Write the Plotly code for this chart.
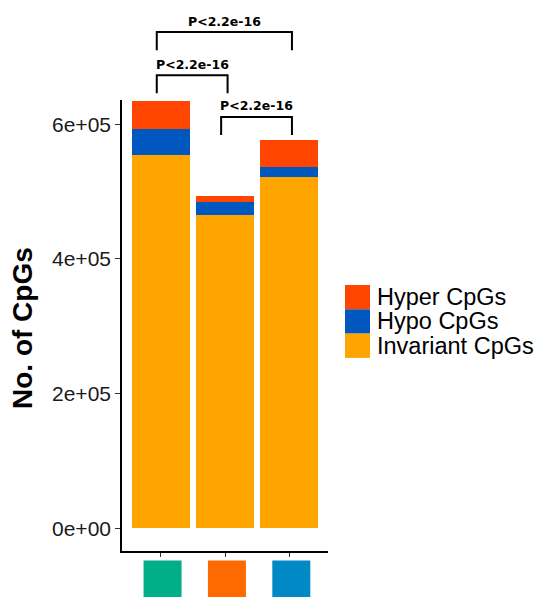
import plotly.graph_objects as go

# ---------------- data ----------------
groups = [0, 1, 2]
invariant = [555000, 465000, 522000]
hypo = [38500, 19000, 14000]
hyper = [40500, 9500, 41000]
series_names = ["Invariant CpGs", "Hypo CpGs", "Hyper CpGs"]
series_colors = ["#FFA500", "#0057BE", "#FF4500"]
group_colors = ["#00AE87", "#FF6A00", "#0089C5"]
ytick_vals = [0, 200000, 400000, 600000]
ytick_text = ["0e+00", "2e+05", "4e+05", "6e+05"]
comparisons = [(0, 2), (0, 1), (1, 2)]
comparison_labels = ["P<2.2e-16", "P<2.2e-16", "P<2.2e-16"]
comparison_y = [737000, 673000, 611000]
legend_order = ["Hyper CpGs", "Hypo CpGs", "Invariant CpGs"]

# ---------------- layout constants ----------------
W, H = 543, 597
ML, MR, MT, MB = 122, 215, 100, 46
XMIN, XMAX = -0.6, 2.6
YMIN, YMAX = -33700, 636100
PW = W - ML - MR
PH = H - MT - MB


def xp(v):
    return (v - XMIN) / (XMAX - XMIN)


def yp(v):
    return (v - YMIN) / (YMAX - YMIN)


def px_x(p):
    return (p - ML) / PW


def px_y(p):
    return (H - MB - p) / PH


fig = go.Figure()
for name, vals, col in zip(series_names, [invariant, hypo, hyper], series_colors):
    fig.add_trace(go.Bar(x=groups, y=vals, name=name, marker=dict(color=col, line=dict(width=0)),
                         width=0.9, showlegend=False))

shapes = []
annotations = []

# coloured group squares under the axis (one per category)
half = 19 / PW * (XMAX - XMIN)
for g, col in zip(groups, group_colors):
    shapes.append(dict(type="rect", xref="paper", yref="paper",
                       x0=xp(g + 0.03 - half), x1=xp(g + 0.03 + half),
                       y0=px_y(598), y1=px_y(560.5), fillcolor=col, line=dict(width=0)))

# significance brackets
tip = 27000
for (a, b), lab, yv in zip(comparisons, comparison_labels, comparison_y):
    x0 = xp(a - 0.06)
    x1 = xp(b + 0.04)
    y0 = yp(yv - tip)
    y1 = yp(yv)
    shapes.append(dict(type="path", xref="paper", yref="paper",
                       path=f"M {x0},{y0} L {x0},{y1} L {x1},{y1} L {x1},{y0}",
                       line=dict(color="black", width=2)))
    annotations.append(dict(x=(x0 + x1) / 2, y=y1, xref="paper", yref="paper", text=f"<b>{lab}</b>",
                            showarrow=False, xanchor="center", yanchor="middle", yshift=11,
                            font=dict(family="DejaVu Sans", size=12.5, color="black")))

# manual legend
color_of = dict(zip(series_names, series_colors))
row_top = 285
row_h = 24.3
for i, name in enumerate(legend_order):
    t = row_top + i * row_h
    shapes.append(dict(type="rect", xref="paper", yref="paper",
                       x0=px_x(345), x1=px_x(370), y0=px_y(t + row_h), y1=px_y(t),
                       fillcolor=color_of[name], line=dict(width=0)))
    annotations.append(dict(x=px_x(376), y=px_y(t + row_h / 2), xref="paper", yref="paper",
                            text=name, showarrow=False, xanchor="left", yanchor="middle",
                            borderpad=0,
                            font=dict(family="Liberation Sans", size=23.5, color="black")))

# y-axis title
annotations.append(dict(x=px_x(22), y=px_y(328), xref="paper", yref="paper", text="<b>No. of CpGs</b>",
                        textangle=-90, showarrow=False, xanchor="center", yanchor="middle",
                        font=dict(family="Liberation Sans", size=28, color="black")))

fig.update_layout(
    width=W, height=H,
    margin=dict(l=ML, r=MR, t=MT, b=MB, autoexpand=False),
    barmode="stack", bargap=0.1,
    plot_bgcolor="white", paper_bgcolor="white",
    showlegend=False,
    shapes=shapes, annotations=annotations,
    xaxis=dict(range=[XMIN, XMAX], tickvals=groups, ticktext=["", "", ""], ticks="outside",
               ticklen=4, tickwidth=1.2, tickcolor="#333", showline=True, linecolor="black",
               linewidth=1.6, showgrid=False, zeroline=False, fixedrange=True),
    yaxis=dict(range=[YMIN, YMAX], tickvals=ytick_vals, ticktext=ytick_text, ticks="outside",
               ticklen=5, tickwidth=1.2, tickcolor="#333", showline=True, linecolor="black",
               linewidth=1.6, showgrid=False, zeroline=False,
               tickfont=dict(family="Liberation Sans", size=21, color="#1a1a1a")),
)

fig.write_html("out.html")
